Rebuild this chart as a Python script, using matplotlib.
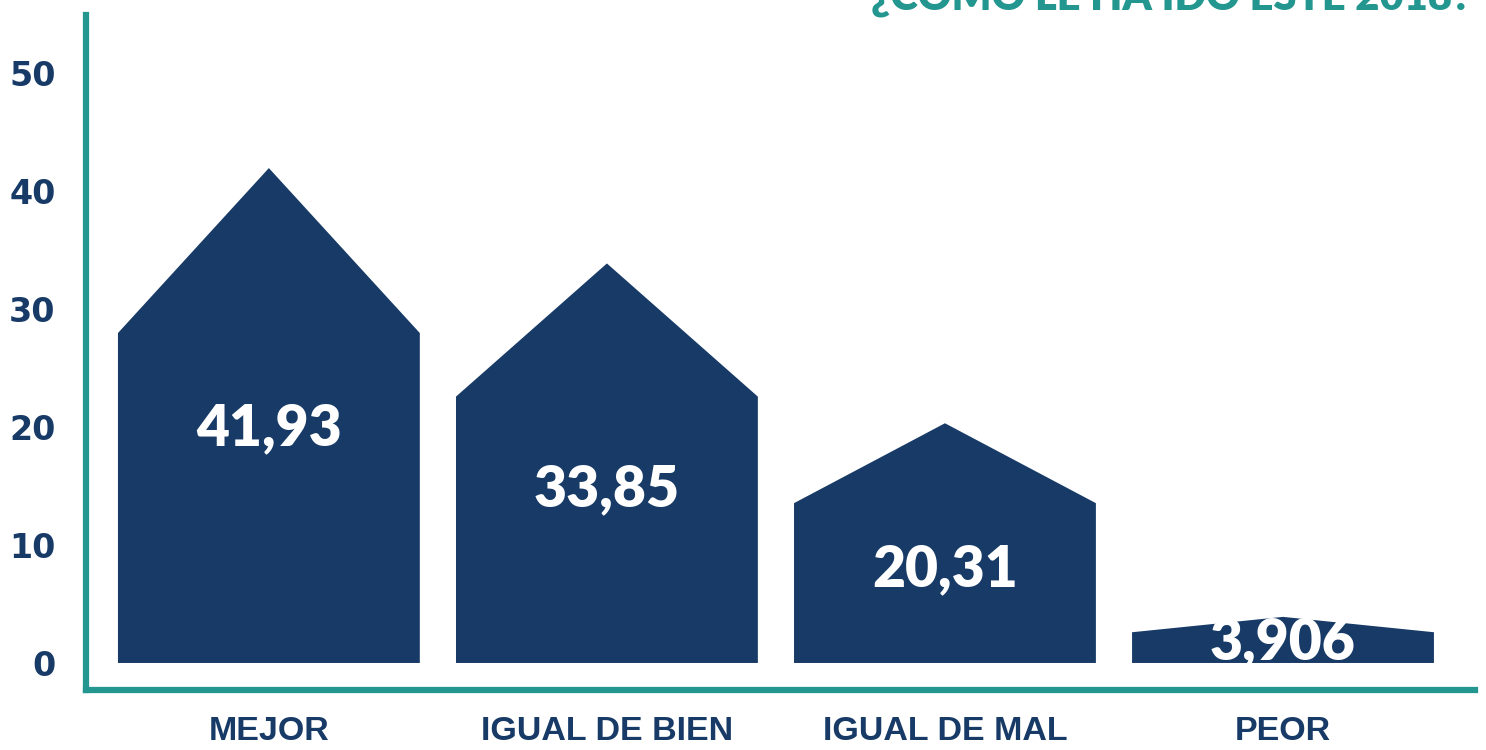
import matplotlib
matplotlib.use('Agg')
import matplotlib.pyplot as plt
from matplotlib.patches import Polygon

categories = ['MEJOR', 'IGUAL DE BIEN', 'IGUAL DE MAL', 'PEOR']
values = [41.93, 33.85, 20.31, 3.906]
value_labels = ['41,93', '33,85', '20,31', '3,906']
yticks = [0, 10, 20, 30, 40, 50]
title = '¿CÓMO LE HA IDO ESTE 2018?'

NAVY = '#173a66'
TEAL = '#23968f'

fig = plt.figure(figsize=(14.86, 7.5), dpi=100)
ax = fig.add_axes([86 / 1486, 60 / 750, 1389 / 1486, 675 / 750])

bar_width = 0.893
shoulder = 2 / 3
label_frac = [0.475, 0.435, 0.39, 0.45]

for i, v in enumerate(values):
    x0, x1 = i - bar_width / 2, i + bar_width / 2
    poly = Polygon([(x0, 0), (x0, v * shoulder), (i, v), (x1, v * shoulder), (x1, 0)],
                   closed=True, facecolor=NAVY, edgecolor='none', zorder=2)
    ax.add_patch(poly)
    ax.text(i, v * label_frac[i], value_labels[i], ha='center', va='center',
            color='white', fontsize=41, fontweight='heavy', family='Lato', zorder=3)

ax.set_xlim(-0.541, 3.568)
ax.set_ylim(-2.29, 54.9)

ax.set_yticks(yticks)
ax.set_yticklabels([str(t) for t in yticks])
ax.set_xticks(range(len(categories)))
ax.set_xticklabels(categories)

for lab in ax.get_yticklabels():
    lab.set_family('DejaVu Sans')
    lab.set_fontweight('bold')
    lab.set_fontsize(24)
    lab.set_color(NAVY)
for lab in ax.get_xticklabels():
    lab.set_family('Liberation Sans')
    lab.set_fontweight('bold')
    lab.set_fontsize(24.5)
    lab.set_color(NAVY)

ax.tick_params(axis='both', length=0)
ax.tick_params(axis='y', pad=22)
ax.tick_params(axis='x', pad=19)

for side in ['top', 'right']:
    ax.spines[side].set_visible(False)
for side in ['left', 'bottom']:
    ax.spines[side].set_color(TEAL)
    ax.spines[side].set_linewidth(4.5)
    ax.spines[side].set_capstyle('projecting')

fig.text(1472 / 1486, 1 - 11 / 750, title, ha='right', va='baseline',
         color=TEAL, fontsize=30, fontweight='heavy', family='Lato')

fig.savefig('out.png', dpi=100)
